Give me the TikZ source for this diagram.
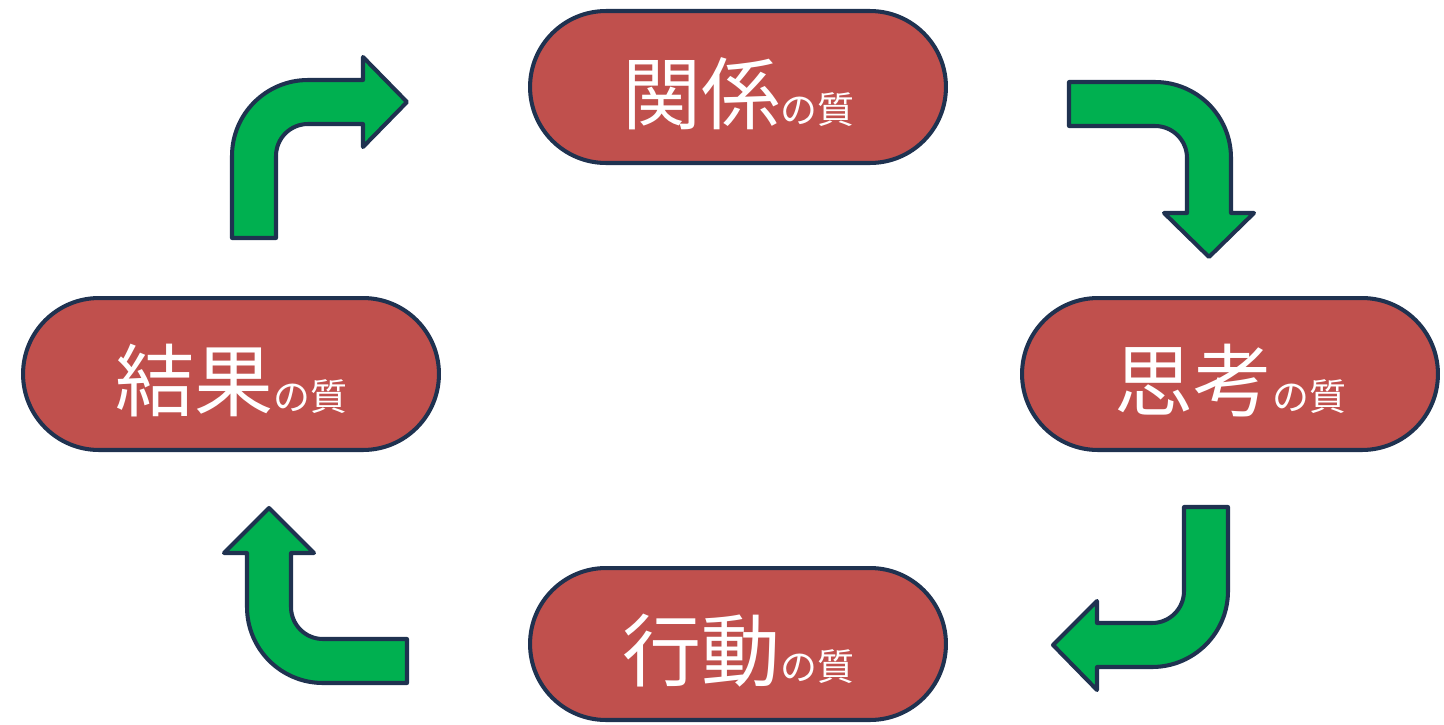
\documentclass[tikz,border=0pt]{standalone}
\usepackage{fontspec}
\setmainfont{Noto Sans CJK JP}
\definecolor{pillred}{HTML}{C0504D}
\definecolor{edgeblue}{HTML}{1F3250}
\definecolor{turngreen}{HTML}{00B050}
\newcommand{\quality}[1]{{\fontsize{45}{45}\selectfont #1}{\fontsize{21}{21}\selectfont の質}}

\begin{document}
\begin{tikzpicture}[
            x = 0.02cm, % one unit = one pixel of the sketch
            y = -0.02cm,
            line width = 2.3pt % outline width
        ]

        \tikzstyle{pill}=[
        draw = edgeblue,
        fill = pillred,
        text = white,
        rectangle,
        rounded corners = 1.52cm,
        minimum width = 8.32cm,
        minimum height = 3.04cm,
        inner sep = 0pt
        ]
        \tikzstyle{turn}=[
        draw = edgeblue,
        fill = turngreen,
        line join = round
        ]

        \useasboundingbox (0,0) rectangle (1444,724);

        \node[pill] (relation) at (738,87) {};
        \node[pill] (thinking) at (1230,374) {};
        \node[pill] (action) at (738,644) {};
        \node[pill] (result) at (231,374) {};

        % labels sit a little below the middle
        \node[text = white, yshift = -0.14cm] (relation text) at (relation) {\quality{関係}};
        \node[text = white, yshift = -0.14cm] (thinking text) at (thinking) {\quality{思考}};
        \node[text = white, yshift = -0.14cm] (action text) at (action) {\quality{行動}};
        \node[text = white, yshift = -0.14cm] (result text) at (result) {\quality{結果}};

        % result -> relation
        \filldraw[turn] (232,238) -- (232,156) .. controls (232,114) and (266,80) .. (308,80)
            -- (363,80) -- (363,57) -- (407,102) -- (363,147) -- (363,124) -- (308,124)
            .. controls (290.3,124) and (276,138.3) .. (276,156) -- (276,238) -- cycle;

        % relation -> thinking
        \filldraw[turn] (1069,82) -- (1155,82) .. controls (1197,82) and (1231,116) .. (1231,158)
            -- (1231,213) -- (1254,213) -- (1209,257) -- (1164,213) -- (1187,213) -- (1187,158)
            .. controls (1187,140.3) and (1172.7,126) .. (1155,126) -- (1069,126) -- cycle;

        % thinking -> action
        \filldraw[turn] (1184,507) -- (1228,507) -- (1228,591) .. controls (1228,633) and (1194,667) .. (1152,667)
            -- (1097,667) -- (1097,690) -- (1053,645) -- (1097,601) -- (1097,623) -- (1152,623)
            .. controls (1169.7,623) and (1184,608.7) .. (1184,591) -- cycle;

        % action -> result
        \filldraw[turn] (407,639) -- (323,639) .. controls (305.3,639) and (291,624.7) .. (291,607)
            -- (291,553) -- (314,553) -- (269,508) -- (224,553) -- (247,553) -- (247,607)
            .. controls (247,649) and (281,683) .. (323,683) -- (407,683) -- cycle;
    \end{tikzpicture}
\end{document}
